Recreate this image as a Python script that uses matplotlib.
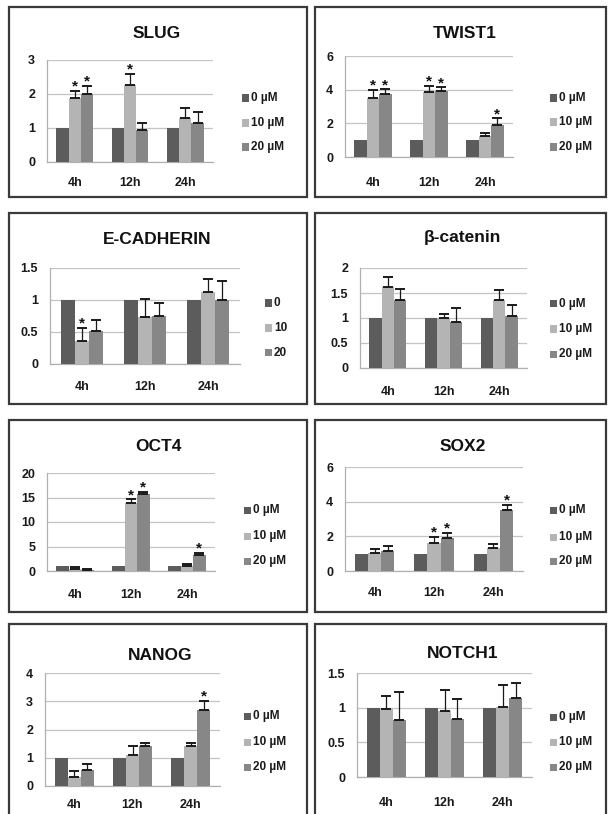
import matplotlib
matplotlib.use("Agg")
import matplotlib.pyplot as plt
from matplotlib.patches import Rectangle
import numpy as np

plt.rcParams['font.family'] = ['Liberation Sans', 'DejaVu Sans']
plt.rcParams['font.weight'] = 'bold'

W, H = 609, 814

# ---------------- data ----------------
times = ["4h", "12h", "24h"]
doses = ["0 \u00b5M", "10 \u00b5M", "20 \u00b5M"]
doses_plain = ["0", "10", "20"]

slug_mean = [[1, 1, 1], [1.88, 2.27, 1.29], [2.0, 0.95, 1.16]]
slug_err = [[0, 0, 0], [0.22, 0.32, 0.31], [0.24, 0.21, 0.31]]
slug_sig = [(1, 0), (2, 0), (1, 1)]

twist_mean = [[1, 1, 1], [3.52, 3.88, 1.23], [3.72, 3.92, 1.89]]
twist_err = [[0, 0, 0], [0.46, 0.33, 0.2], [0.3, 0.21, 0.4]]
twist_sig = [(1, 0), (2, 0), (1, 1), (2, 1), (2, 2)]

ecad_mean = [[1, 1, 1], [0.36, 0.73, 1.12], [0.51, 0.75, 1.0]]
ecad_err = [[0, 0, 0], [0.2, 0.29, 0.21], [0.18, 0.2, 0.29]]
ecad_sig = [(1, 0)]

bcat_mean = [[1, 1, 1], [1.62, 1.0, 1.37], [1.37, 0.91, 1.05]]
bcat_err = [[0, 0, 0], [0.21, 0.08, 0.2], [0.22, 0.3, 0.22]]
bcat_sig = []

oct4_mean = [[1, 1, 1], [0.4, 13.9, 1.1], [0.2, 15.66, 3.25]]
oct4_err = [[0, 0, 0], [0.4, 0.7, 0.3], [0.3, 0.45, 0.45]]
oct4_sig = [(1, 1), (2, 1), (2, 2)]

sox2_mean = [[1, 1, 1], [1.05, 1.62, 1.3], [1.16, 1.88, 3.52]]
sox2_err = [[0, 0, 0], [0.2, 0.35, 0.23], [0.27, 0.32, 0.29]]
sox2_sig = [(1, 1), (2, 1), (2, 2)]

nanog_mean = [[1, 1, 1], [0.32, 1.09, 1.41], [0.56, 1.42, 2.69]]
nanog_err = [[0, 0, 0], [0.21, 0.32, 0.12], [0.21, 0.11, 0.32]]
nanog_sig = [(2, 2)]

notch_mean = [[1, 1, 1], [0.98, 0.95, 1.01], [0.82, 0.84, 1.14]]
notch_err = [[0, 0, 0], [0.19, 0.3, 0.31], [0.4, 0.29, 0.21]]
notch_sig = []

# ---------------- layout ----------------
colors = ["#5c5c5c", "#b4b4b4", "#878787"]

panels = [
    dict(title="SLUG", mean=slug_mean, err=slug_err, sig=slug_sig, labels=doses,
         yticks=[0, 1, 2, 3], ylab=["0", "1", "2", "3"],
         box=(9, 7, 307, 197), ax=(47, 60, 213, 162), tt=(157, 33),
         leg=(245, [98, 123, 147]), xlab=183),
    dict(title="TWIST1", mean=twist_mean, err=twist_err, sig=twist_sig, labels=doses,
         yticks=[0, 2, 4, 6], ylab=["0", "2", "4", "6"],
         box=(315, 7, 606, 197), ax=(345, 56, 513, 157), tt=(465, 33),
         leg=(553, [98, 122, 147]), xlab=183),
    dict(title="E-CADHERIN", mean=ecad_mean, err=ecad_err, sig=ecad_sig, labels=doses_plain,
         yticks=[0, 0.5, 1, 1.5], ylab=["0", "0.5", "1", "1.5"],
         box=(9, 213, 307, 404), ax=(50, 268, 240, 364), tt=(157, 240),
         leg=(268, [303, 328, 353]), xlab=388),
    dict(title="\u03b2-catenin", mean=bcat_mean, err=bcat_err, sig=bcat_sig, labels=doses,
         yticks=[0, 0.5, 1, 1.5, 2], ylab=["0", "0.5", "1", "1.5", "2"],
         box=(315, 213, 606, 404), ax=(360, 268, 527, 368), tt=(462, 238),
         leg=(553, [304, 329, 354]), xlab=393),
    dict(title="OCT4", mean=oct4_mean, err=oct4_err, sig=oct4_sig, labels=doses,
         yticks=[0, 5, 10, 15, 20], ylab=["0", "5", "10", "15", "20"],
         box=(9, 420, 307, 612), ax=(47, 473, 215, 571), tt=(158, 447),
         leg=(247, [510, 536, 561]), xlab=595),
    dict(title="SOX2", mean=sox2_mean, err=sox2_err, sig=sox2_sig, labels=doses,
         yticks=[0, 2, 4, 6], ylab=["0", "2", "4", "6"],
         box=(315, 420, 606, 612), ax=(345, 467, 523, 571), tt=(463, 447),
         leg=(553, [510, 537, 561]), xlab=594),
    dict(title="NANOG", mean=nanog_mean, err=nanog_err, sig=nanog_sig, labels=doses,
         yticks=[0, 1, 2, 3, 4], ylab=["0", "1", "2", "3", "4"],
         box=(9, 624, 307, 820), ax=(45, 673, 220, 786), tt=(160, 655),
         leg=(247, [716, 742, 767]), xlab=805),
    dict(title="NOTCH1", mean=notch_mean, err=notch_err, sig=notch_sig, labels=doses,
         yticks=[0, 0.5, 1, 1.5], ylab=["0", "0.5", "1", "1.5"],
         box=(315, 624, 606, 820), ax=(357, 673, 532, 777), tt=(463, 653),
         leg=(553, [717, 742, 767]), xlab=803),
]

fig = plt.figure(figsize=(W / 100, H / 100), dpi=100)
fig.patch.set_facecolor("white")


def fx(x):
    return x / W


def fy(y):
    return 1 - y / H


bw = 1 / 4.5
x = np.arange(len(times))

for p in panels:
    bx0, by0, bx1, by1 = p["box"]
    fig.add_artist(Rectangle((fx(bx0), fy(by1)), (bx1 - bx0) / W, (by1 - by0) / H,
                             transform=fig.transFigure, fill=False,
                             ec="#3a3a3a", lw=1.6, zorder=0))
    ax0, ay0, ax1, ay1 = p["ax"]
    ax = fig.add_axes([fx(ax0), fy(ay1), (ax1 - ax0) / W, (ay1 - ay0) / H])
    ax.set_facecolor("none")
    ymax = p["yticks"][-1]
    for i in range(3):
        pos = x + (i - 1) * bw
        m = np.array(p["mean"][i], dtype=float)
        e = np.array(p["err"][i], dtype=float)
        ax.bar(pos, m, width=bw, color=colors[i], zorder=3)
        if e.max() > 0:
            ax.errorbar(pos, m, yerr=[np.zeros_like(e), e], fmt="none",
                        ecolor="#1a1a1a", elinewidth=0.9, capsize=3.5,
                        capthick=1.4, zorder=4)
    for (i, t) in p["sig"]:
        top = p["mean"][i][t] + p["err"][i][t]
        ax.annotate("*", (x[t] + (i - 1) * bw, top), xytext=(0, -2),
                    textcoords="offset points", ha="center", va="bottom",
                    fontsize=11, fontweight="bold", color="#111111", zorder=5)
    ax.set_xlim(-0.5, 2.5)
    ax.set_ylim(0, ymax)
    ax.set_yticks(p["yticks"])
    ax.set_yticklabels(p["ylab"])
    ax.set_xticks(x)
    ax.set_xticklabels(times)
    pad_x = (p["xlab"] - ay1 - 6.5) * 0.72
    ax.tick_params(axis="x", length=0, pad=pad_x, labelsize=9)
    ax.tick_params(axis="y", length=0, pad=8.5, labelsize=9)
    for lab in ax.get_xticklabels() + ax.get_yticklabels():
        lab.set_fontweight("bold")
        lab.set_color("#1a1a1a")
    ax.yaxis.grid(True, color="#c4c4c4", lw=0.9, zorder=0)
    ax.set_axisbelow(True)
    for s in ["top", "right"]:
        ax.spines[s].set_visible(False)
    ax.spines["left"].set_color("#b0b0b0")
    ax.spines["bottom"].set_color("#b0b0b0")
    ax.spines["left"].set_linewidth(0.9)
    ax.spines["bottom"].set_linewidth(0.9)

    tx, ty = p["tt"]
    fig.text(fx(tx), fy(ty), p["title"], ha="center", va="center",
             fontsize=12.5, fontweight="bold", color="#111111")

    lx, lys = p["leg"]
    for i, ly in enumerate(lys):
        s = 7
        fig.add_artist(Rectangle((fx(lx - s / 2), fy(ly + s / 2)), s / W, s / H,
                                 transform=fig.transFigure, fc=colors[i], ec="none"))
        fig.text(fx(lx + 6), fy(ly), p["labels"][i], ha="left", va="center",
                 fontsize=8.5, fontweight="bold", color="#1a1a1a")

fig.savefig("out.png", dpi=100, facecolor="white")
